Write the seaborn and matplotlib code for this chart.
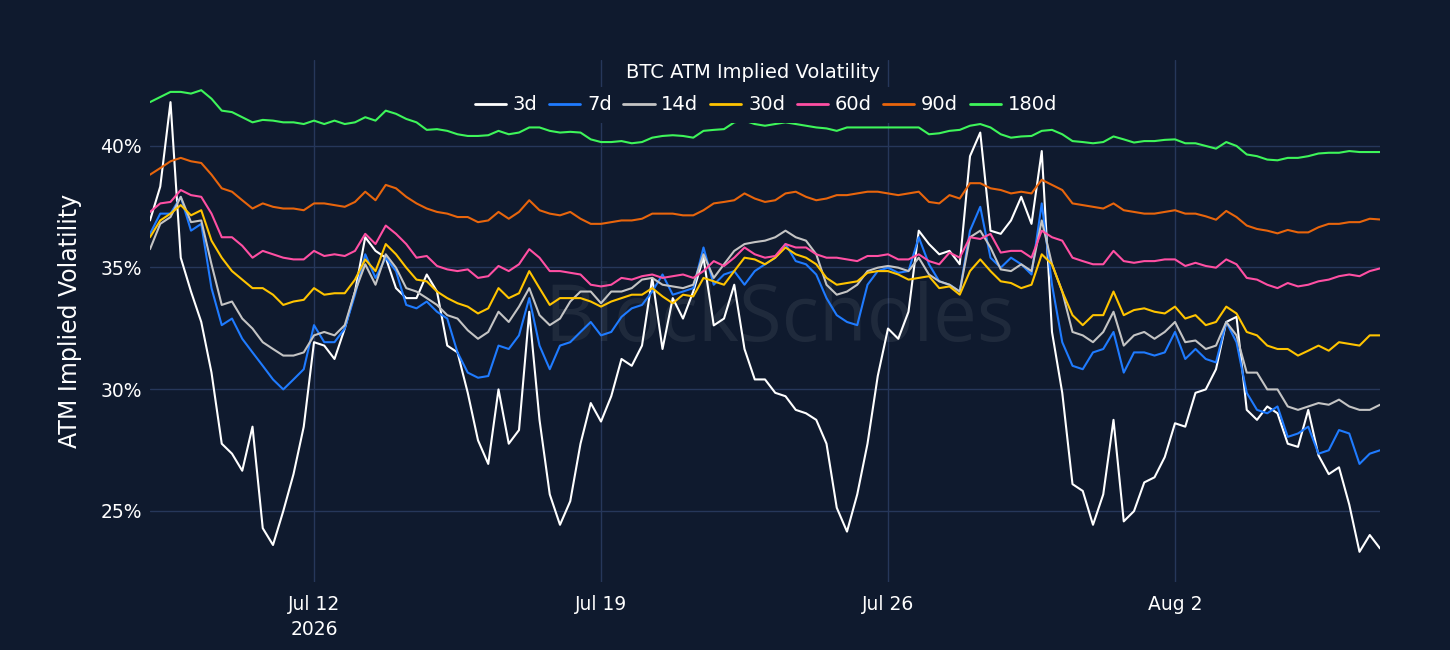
import numpy as np
import pandas as pd
import matplotlib
matplotlib.use("Agg")
import matplotlib.pyplot as plt
from matplotlib.lines import Line2D
import seaborn as sns

# ---------------- data (ATM implied vol, %, sampled every 6h) ----------------
start_time = "2026-07-08 00:00"
step = "6h"

iv_3d = [36.93, 38.32, 41.79, 35.40, 34.01, 32.76, 30.68, 27.76, 27.35, 26.65,
         28.46, 24.29, 23.60, 24.99, 26.51, 28.46, 31.93, 31.79, 31.24, 32.49,
         34.01, 36.24, 35.68, 35.40, 34.15, 33.74, 33.74, 34.71, 34.01, 31.79,
         31.51, 29.85, 27.90, 26.93, 29.99, 27.76, 28.32, 33.18, 28.74, 25.68,
         24.43, 25.40, 27.76, 29.43, 28.67, 29.71, 31.24, 30.96, 31.79, 34.57,
         31.65, 33.74, 32.90, 34.01, 35.40, 32.62, 32.90, 34.29, 31.65, 30.40,
         30.40, 29.85, 29.71, 29.15, 29.01, 28.74, 27.76, 25.13, 24.15, 25.68,
         27.76, 30.54, 32.49, 32.07, 33.18, 36.51, 35.96, 35.54, 35.68, 35.13,
         39.57, 40.54, 36.51, 36.38, 36.93, 37.90, 36.79, 39.78, 32.35, 29.85,
         26.10, 25.82, 24.43, 25.68, 28.74, 24.57, 24.99, 26.17, 26.38, 27.21,
         28.60, 28.46, 29.85, 29.99, 30.82, 32.76, 32.97, 29.15, 28.74, 29.29,
         29.01, 27.76, 27.63, 29.15, 27.28, 26.51, 26.79, 25.26, 23.32, 24.01,
         23.46]

iv_7d = [36.38, 37.21, 37.21, 37.90, 36.51, 36.79, 34.15, 32.63, 32.90, 32.07,
         31.51, 30.96, 30.40, 29.99, 30.40, 30.82, 32.63, 31.93, 31.93, 32.49,
         33.88, 35.54, 34.57, 35.40, 34.85, 33.46, 33.32, 33.60, 33.18, 32.90,
         31.51, 30.68, 30.47, 30.54, 31.79, 31.65, 32.21, 33.74, 31.79, 30.82,
         31.79, 31.93, 32.35, 32.76, 32.21, 32.35, 32.97, 33.32, 33.46, 34.01,
         34.71, 33.88, 34.01, 34.15, 35.82, 34.29, 34.71, 34.85, 34.29, 34.85,
         35.13, 35.40, 35.96, 35.26, 35.13, 34.71, 33.74, 33.04, 32.76, 32.63,
         34.29, 34.85, 34.99, 34.78, 34.85, 36.24, 35.13, 34.43, 34.29, 34.01,
         36.51, 37.49, 35.40, 34.99, 35.40, 35.13, 34.71, 37.63, 34.29, 31.93,
         30.96, 30.82, 31.51, 31.65, 32.35, 30.68, 31.51, 31.51, 31.38, 31.51,
         32.35, 31.24, 31.65, 31.24, 31.10, 32.76, 31.93, 29.85, 29.15, 29.01,
         29.29, 28.04, 28.18, 28.46, 27.35, 27.49, 28.32, 28.18, 26.93, 27.35,
         27.49]

iv_14d = [35.75, 36.79, 37.07, 37.90, 36.86, 36.93, 35.13, 33.46, 33.60, 32.90,
          32.49, 31.93, 31.65, 31.38, 31.38, 31.51, 32.21, 32.35, 32.21, 32.63,
          34.01, 35.13, 34.29, 35.54, 34.99, 34.15, 34.01, 33.74, 33.46, 33.04,
          32.90, 32.42, 32.07, 32.35, 33.18, 32.76, 33.39, 34.15, 33.04, 32.63,
          32.90, 33.60, 34.01, 34.01, 33.53, 34.01, 34.01, 34.15, 34.50, 34.57,
          34.29, 34.22, 34.15, 34.29, 35.54, 34.57, 35.13, 35.68, 35.96, 36.04,
          36.10, 36.24, 36.51, 36.24, 36.10, 35.54, 34.29, 33.88, 34.01, 34.29,
          34.85, 34.99, 35.06, 34.99, 34.85, 35.40, 34.71, 34.43, 34.29, 34.01,
          36.24, 36.51, 35.82, 34.92, 34.85, 35.13, 34.85, 36.93, 35.13, 34.01,
          32.35, 32.21, 31.93, 32.35, 33.18, 31.79, 32.21, 32.35, 32.07, 32.35,
          32.76, 31.93, 32.00, 31.65, 31.79, 32.76, 32.21, 30.68, 30.68, 29.99,
          29.99, 29.29, 29.15, 29.29, 29.43, 29.36, 29.57, 29.29, 29.15, 29.15,
          29.36]

iv_30d = [36.24, 36.93, 37.21, 37.56, 37.14, 37.35, 36.10, 35.40, 34.85, 34.50,
          34.15, 34.15, 33.88, 33.46, 33.60, 33.67, 34.15, 33.88, 33.94, 33.94,
          34.50, 35.33, 34.85, 35.96, 35.54, 34.99, 34.50, 34.43, 34.01, 33.74,
          33.53, 33.39, 33.11, 33.32, 34.15, 33.74, 33.94, 34.85, 34.15, 33.46,
          33.74, 33.74, 33.74, 33.60, 33.39, 33.60, 33.74, 33.88, 33.88, 34.15,
          33.81, 33.53, 33.88, 33.81, 34.57, 34.43, 34.29, 34.85, 35.40, 35.33,
          35.13, 35.40, 35.82, 35.54, 35.40, 35.13, 34.57, 34.29, 34.36, 34.43,
          34.78, 34.85, 34.85, 34.71, 34.50, 34.57, 34.64, 34.15, 34.22, 33.88,
          34.85, 35.33, 34.85, 34.43, 34.36, 34.15, 34.29, 35.54, 35.13, 34.01,
          33.04, 32.63, 33.04, 33.04, 34.01, 33.04, 33.25, 33.32, 33.18, 33.11,
          33.39, 32.90, 33.04, 32.63, 32.76, 33.39, 33.11, 32.35, 32.21, 31.79,
          31.65, 31.65, 31.38, 31.58, 31.79, 31.58, 31.93, 31.86, 31.79, 32.21,
          32.21]

iv_60d = [37.28, 37.63, 37.69, 38.18, 37.97, 37.90, 37.21, 36.24, 36.24, 35.89,
          35.40, 35.68, 35.54, 35.40, 35.33, 35.33, 35.68, 35.47, 35.54, 35.47,
          35.68, 36.38, 35.96, 36.72, 36.38, 35.96, 35.40, 35.47, 35.06, 34.92,
          34.85, 34.92, 34.57, 34.64, 35.06, 34.85, 35.13, 35.75, 35.40, 34.85,
          34.85, 34.78, 34.71, 34.29, 34.22, 34.29, 34.57, 34.50, 34.64, 34.71,
          34.57, 34.64, 34.71, 34.57, 34.85, 35.26, 35.06, 35.40, 35.82, 35.54,
          35.40, 35.47, 35.96, 35.82, 35.82, 35.54, 35.40, 35.40, 35.33, 35.26,
          35.47, 35.47, 35.54, 35.33, 35.33, 35.54, 35.26, 35.13, 35.61, 35.40,
          36.24, 36.17, 36.38, 35.61, 35.68, 35.68, 35.40, 36.51, 36.24, 36.10,
          35.40, 35.26, 35.13, 35.13, 35.68, 35.26, 35.19, 35.26, 35.26, 35.33,
          35.33, 35.06, 35.19, 35.06, 34.99, 35.33, 35.13, 34.57, 34.50, 34.29,
          34.15, 34.36, 34.22, 34.29, 34.43, 34.50, 34.64, 34.71, 34.64, 34.85,
          34.96]

iv_90d = [38.81, 39.08, 39.36, 39.50, 39.36, 39.29, 38.81, 38.25, 38.11, 37.76,
          37.42, 37.63, 37.49, 37.42, 37.42, 37.35, 37.63, 37.63, 37.56, 37.49,
          37.69, 38.11, 37.76, 38.39, 38.25, 37.90, 37.63, 37.42, 37.28, 37.21,
          37.07, 37.07, 36.86, 36.93, 37.28, 37.00, 37.28, 37.76, 37.35, 37.21,
          37.14, 37.28, 37.00, 36.79, 36.79, 36.86, 36.93, 36.93, 37.00, 37.21,
          37.21, 37.21, 37.14, 37.14, 37.35, 37.63, 37.69, 37.76, 38.04, 37.83,
          37.69, 37.76, 38.04, 38.11, 37.90, 37.76, 37.83, 37.97, 37.97, 38.04,
          38.11, 38.11, 38.04, 37.97, 38.04, 38.11, 37.69, 37.63, 37.97, 37.83,
          38.46, 38.46, 38.25, 38.18, 38.04, 38.11, 38.04, 38.60, 38.39, 38.18,
          37.63, 37.56, 37.49, 37.42, 37.63, 37.35, 37.28, 37.21, 37.21, 37.28,
          37.35, 37.21, 37.21, 37.10, 36.96, 37.32, 37.07, 36.72, 36.58, 36.51,
          36.40, 36.54, 36.44, 36.44, 36.65, 36.79, 36.79, 36.86, 36.86, 37.00,
          36.97]

iv_180d = [41.79, 42.00, 42.21, 42.21, 42.14, 42.28, 41.93, 41.44, 41.38, 41.17,
           40.96, 41.06, 41.03, 40.96, 40.96, 40.89, 41.03, 40.89, 41.03, 40.89,
           40.96, 41.17, 41.03, 41.44, 41.31, 41.10, 40.96, 40.65, 40.68, 40.61,
           40.47, 40.40, 40.40, 40.43, 40.61, 40.47, 40.54, 40.75, 40.75, 40.61,
           40.54, 40.57, 40.54, 40.26, 40.15, 40.15, 40.19, 40.10, 40.15, 40.33,
           40.40, 40.43, 40.40, 40.33, 40.61, 40.65, 40.68, 40.96, 41.03, 40.89,
           40.82, 40.89, 40.96, 40.89, 40.82, 40.75, 40.71, 40.61, 40.75, 40.75,
           40.75, 40.75, 40.75, 40.75, 40.75, 40.75, 40.47, 40.51, 40.61, 40.65,
           40.82, 40.89, 40.75, 40.47, 40.33, 40.38, 40.40, 40.61, 40.65, 40.47,
           40.19, 40.15, 40.10, 40.15, 40.38, 40.26, 40.13, 40.19, 40.19, 40.24,
           40.26, 40.10, 40.10, 39.99, 39.88, 40.15, 39.99, 39.64, 39.57, 39.43,
           39.40, 39.50, 39.50, 39.57, 39.68, 39.71, 39.71, 39.78, 39.74, 39.74,
           39.74]

tenors = ["3d", "7d", "14d", "30d", "60d", "90d", "180d"]
tenor_colors = ["#ffffff", "#1f7bff", "#c4c4c4", "#ffc400", "#ff4fa3", "#e8650c", "#3ef55a"]

ytick_values = [25, 30, 35, 40]
ytick_labels = ["25%", "30%", "35%", "40%"]
xtick_dates = ["2026-07-12", "2026-07-19", "2026-07-26", "2026-08-02"]
xtick_labels = ["Jul 12\n2026", "Jul 19", "Jul 26", "Aug 2"]

title_text = "BTC ATM Implied Volatility"
ylabel_text = "ATM Implied Volatility"
watermark_text = "BlockScholes"

# ---------------- build frame ----------------
series = [iv_3d, iv_7d, iv_14d, iv_30d, iv_60d, iv_90d, iv_180d]
times = pd.date_range(start_time, periods=len(iv_3d), freq=step)
frames = []
for name, vals in zip(tenors, series):
    frames.append(pd.DataFrame({"time": times, "iv": vals, "tenor": name}))
df = pd.concat(frames, ignore_index=True)

# ---------------- style ----------------
BG = "#0f1a2e"
GRID = "#26375a"
sns.set_theme(style="dark")
plt.rcParams["font.family"] = ["DejaVu Sans"]
plt.rcParams["figure.facecolor"] = BG
plt.rcParams["axes.facecolor"] = BG

fig = plt.figure(figsize=(14.5, 6.5), dpi=100)
ax = fig.add_axes([150 / 1450, 1 - 582 / 650, 1230 / 1450, 522 / 650])
ax.set_facecolor(BG)

sns.lineplot(data=df, x="time", y="iv", hue="tenor", hue_order=tenors,
             palette=dict(zip(tenors, tenor_colors)), linewidth=1.5,
             legend=False, ax=ax, zorder=3)

ax.set_xlim(times[0], times[-1])
ax.set_ylim(22.08, 43.52)

ax.set_yticks(ytick_values)
ax.set_yticklabels(ytick_labels)
ax.set_xticks(pd.to_datetime(xtick_dates))
ax.set_xticklabels(xtick_labels, linespacing=1.45)

ax.grid(True, color=GRID, linewidth=1.0)
ax.set_axisbelow(True)
for s in ax.spines.values():
    s.set_visible(False)
ax.tick_params(axis="both", length=0, colors="white", labelsize=13.5)
ax.tick_params(axis="y", pad=6)
ax.tick_params(axis="x", pad=9)

ax.set_xlabel("")
ax.set_ylabel(ylabel_text, color="white", fontsize=17, labelpad=13)

# watermark
ax.text(0.512, 0.50, watermark_text, transform=ax.transAxes, ha="center", va="center",
        fontsize=56, color="#ffffff", alpha=0.07, zorder=1, family="Open Sans")

# legend with opaque background
handles = [Line2D([0], [0], color=c, lw=2) for c in tenor_colors]
leg = ax.legend(handles, tenors, loc="center", bbox_to_anchor=(0.5008, 0.914),
                ncol=7, frameon=True, fontsize=14, labelcolor="white",
                handlelength=1.6, handletextpad=0.35, columnspacing=0.6,
                borderpad=0.45, facecolor=BG, edgecolor=BG, framealpha=1.0)
leg.get_frame().set_linewidth(0)
leg.set_zorder(10)

fig.text(753 / 1450, 1 - 72 / 650, title_text, ha="center", va="center",
         color="white", fontsize=14)

fig.savefig("out.png", dpi=100, facecolor=BG)
